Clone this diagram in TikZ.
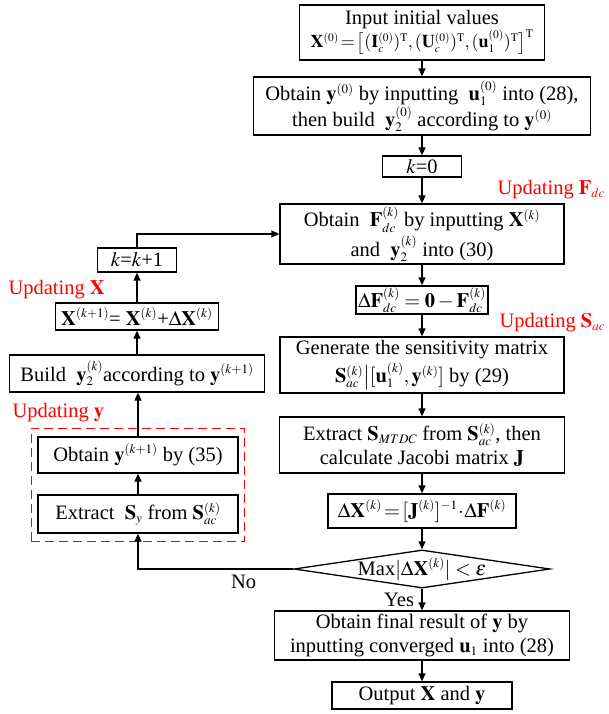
\documentclass[tikz,border=0pt]{standalone}
\usepackage{mathptmx}
\usepackage{fontspec}
\setmainfont{Liberation Serif}
\DeclareMathSizes{20.5}{20.5}{13}{10}
\DeclareMathSizes{18}{18}{11.5}{9}
\usetikzlibrary{shapes.geometric, arrows.meta, positioning, fit}

\begin{document}
\begin{tikzpicture}[
    x=1pt, y=-1pt,
    font=\fontsize{20.5}{24}\selectfont,
    box/.style={rectangle, draw=black, line width=1.3pt, inner sep=0pt, align=center},
    decision/.style={diamond, draw=black, line width=1.3pt, aspect=6.5, inner xsep=0pt, inner ysep=-2pt, minimum width=256pt, minimum height=38pt},
    updbox/.style={draw=red, dash pattern=on 9pt off 5pt, line width=1.3pt, inner xsep=6pt, inner ysep=8pt},
    arrow/.style={-{Triangle[length=8pt, width=7pt]}, line width=1.3pt},
    updlabel/.style={text=red, anchor=west}
]
\useasboundingbox (0,0) rectangle (608,714);

% Main column
\node[box, minimum width=245pt, minimum height=55pt] (init) at (422,32.5) {Input initial values\\[-1pt] {\fontsize{18}{20}\selectfont$\mathbf{X}^{(0)}\!=\!\big[(\mathbf{I}_c^{(0)})^{\mathrm{T}},(\mathbf{U}_c^{(0)})^{\mathrm{T}},(\mathbf{u}_1^{(0)})^{\mathrm{T}}\big]^{\mathrm{T}}$}};
\node[box, minimum width=337pt, minimum height=58pt] (start) at (422,106) {Obtain $\mathbf{y}^{(0)}$ by inputting \ $\mathbf{u}_1^{(0)}$ into (28),\\ then build \ $\mathbf{y}_2^{(0)}$ according to $\mathbf{y}^{(0)}$};
\node[box, minimum width=79pt, minimum height=21pt] (kzero) at (422,166.5) {$k$=0};
\node[box, minimum width=284pt, minimum height=60pt] (fdc) at (422,234) {Obtain \ $\mathbf{F}_{dc}^{(k)}$ by inputting $\mathbf{X}^{(k)}$\\[3pt] and \ $\mathbf{y}_2^{(k)}$ into (30)};
\node[box, minimum width=132pt, minimum height=28pt] (dfdc) at (422,300) {$\Delta\mathbf{F}_{dc}^{(k)}=\mathbf{0}-\mathbf{F}_{dc}^{(k)}$};
\node[box, minimum width=284pt, minimum height=56pt] (sens) at (422,365) {Generate the sensitivity matrix\\[3pt] $\mathbf{S}_{ac}^{(k)}\big|[\mathbf{u}_1^{(k)},\mathbf{y}^{(k)}]$ by (29)};
\node[box, minimum width=285pt, minimum height=56pt] (jac) at (422,445) {Extract $\mathbf{S}_{MTDC}$ from $\mathbf{S}_{ac}^{(k)}$, then\\ calculate Jacobi matrix $\mathbf{J}$};
\node[box, minimum width=188pt, minimum height=34pt] (dx) at (422,511) {$\Delta\mathbf{X}^{(k)}\!=\![\mathbf{J}^{(k)}]^{-1}\!\cdot\!\Delta\mathbf{F}^{(k)}$};
\node[decision] (conv) at (422,569) {Max$|\Delta\mathbf{X}^{(k)}|<\varepsilon$};
\node[box, minimum width=295pt, minimum height=49pt] (final) at (422,635.5) {Obtain final result of $\mathbf{y}$ by\\ inputting converged $\mathbf{u}_1$ into (28)};
\node[box, minimum width=180pt, minimum height=27pt] (out) at (422,695.5) {Output $\mathbf{X}$ and $\mathbf{y}$};

% Update column
\node[box, minimum width=79pt, minimum height=24pt] (kinc) at (137,260) {$k$=$k$+1};
\node[box, minimum width=163pt, minimum height=27pt] (xupd) at (137,316.5) {$\mathbf{X}^{(k+1)}$= $\mathbf{X}^{(k)}$+$\Delta\mathbf{X}^{(k)}$};
\node[box, minimum width=255pt, minimum height=37pt] (build) at (137,373.5) {Build \ $\mathbf{y}_2^{(k)}$according to $\mathbf{y}^{(k+1)}$};
\node[box, minimum width=200pt, minimum height=36pt] (ynew) at (138,455) {Obtain $\mathbf{y}^{(k+1)}$ by (35)};
\node[box, minimum width=200pt, minimum height=38pt] (sy) at (138,514) {Extract \ $\mathbf{S}_y$ from $\mathbf{S}_{ac}^{(k)}$};
\node[updbox, fit=(ynew)(sy)] (ygroup) {};

% Labels
\node[updlabel] (lfdc) at (494,190) {Updating $\mathbf{F}_{dc}$};
\node[updlabel] (lsac) at (496,323) {Updating $\mathbf{S}_{ac}$};
\node[updlabel] (lx) at (5,290) {Updating $\mathbf{X}$};
\node[updlabel] (ly) at (9,413) {Updating $\mathbf{y}$};

\draw[arrow] (init) -- (start);
\draw[arrow] (start) -- (kzero);
\draw[arrow] (kzero) -- (fdc);
\draw[arrow] (fdc) -- (dfdc);
\draw[arrow] (dfdc) -- (sens);
\draw[arrow] (sens) -- (jac);
\draw[arrow] (jac) -- (dx);
\draw[arrow] (dx) -- (conv);
\draw[arrow] (conv) -- node[left, xshift=-4pt] {Yes} (final);
\draw[arrow] (final) -- (out);

\draw[arrow] (conv.west) -| node[pos=0.16, below, yshift=-2pt] {No} (sy.south);
\draw[arrow] (sy) -- (ynew);
\draw[arrow] (ynew.north) -- (build.south -| ynew.north);
\draw[arrow] (build) -- (xupd);
\draw[arrow] (xupd) -- (kinc);
\draw[arrow] (kinc.north) |- (fdc.west);

\end{tikzpicture}
\end{document}
